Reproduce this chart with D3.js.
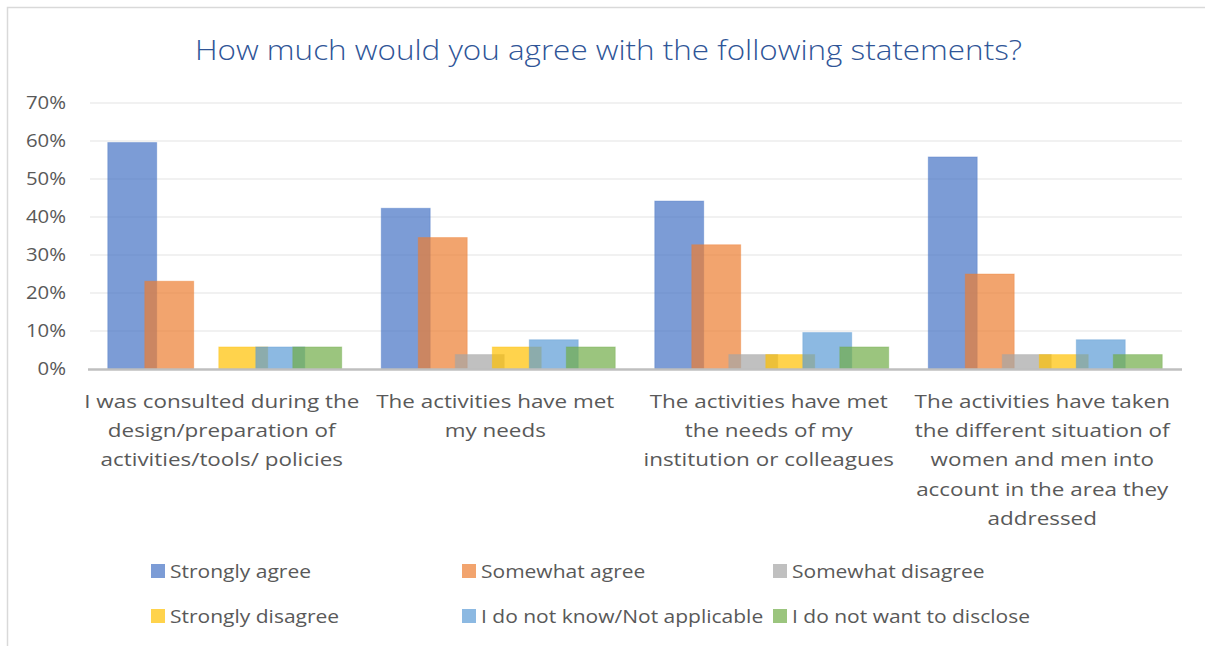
<!DOCTYPE html>
<html>
<head>
<meta charset="utf-8">
<script src="https://cdn.jsdelivr.net/npm/d3@7"></script>
<style>
  html, body { margin: 0; padding: 0; background: #ffffff; }
  svg { display: block; }
  text { font-family: "Open Sans", "Liberation Sans", sans-serif; }
</style>
</head>
<body>
<svg id="chart" width="1205" height="646"></svg>
<script>
// Survey statements (x categories), each split into text lines
const categories = [
  "I was consulted during the design/preparation of activities/tools/ policies",
  "The activities have met my needs",
  "The activities have met the needs of my institution or colleagues",
  "The activities have taken the different situation of women and men into account in the area they addressed"
];
const categoryLines = [
  ["I was consulted during the", "design/preparation of", "activities/tools/ policies"],
  ["The activities have met", "my needs"],
  ["The activities have met", "the needs of my", "institution or colleagues"],
  ["The activities have taken", "the different situation of", "women and men into", "account in the area they", "addressed"]
];

// Answer options (series)
const seriesNames = [
  "Strongly agree", "Somewhat agree", "Somewhat disagree",
  "Strongly disagree", "I do not know/Not applicable", "I do not want to disclose"
];
const seriesColors = ["#4472C4", "#ED7D31", "#A5A5A5", "#FFC000", "#5B9BD5", "#70AD47"];

// Share of respondents per statement, one array per answer option
const stronglyAgree     = [0.596, 0.423, 0.442, 0.558];
const somewhatAgree     = [0.231, 0.346, 0.327, 0.250];
const somewhatDisagree  = [0.000, 0.038, 0.038, 0.038];
const stronglyDisagree  = [0.058, 0.058, 0.038, 0.038];
const doNotKnow         = [0.058, 0.077, 0.096, 0.077];
const doNotDisclose     = [0.058, 0.058, 0.058, 0.038];
const seriesValues = [stronglyAgree, somewhatAgree, somewhatDisagree, stronglyDisagree, doNotKnow, doNotDisclose];

const yTicks = [0, 0.1, 0.2, 0.3, 0.4, 0.5, 0.6, 0.7];

const svg = d3.select("#chart");
const textColor = "#595959";

// Widen text horizontally by a factor, keeping glyph height
function stretch(selection, factor) {
  selection.each(function () {
    const w = this.getComputedTextLength();
    d3.select(this).attr("textLength", w * factor).attr("lengthAdjust", "spacingAndGlyphs");
  });
}

// Chart frame
svg.append("rect")
  .attr("x", 7.5).attr("y", 7.5)
  .attr("width", 1210).attr("height", 660)
  .attr("fill", "#ffffff")
  .attr("stroke", "#D9D9D9").attr("stroke-width", 1.5);

// Title
svg.append("text")
  .attr("x", 608.5).attr("y", 60)
  .attr("text-anchor", "middle")
  .attr("fill", "#2F5597")
  .attr("font-size", 28)
  .attr("font-weight", 300)
  .attr("textLength", 827)
  .attr("lengthAdjust", "spacingAndGlyphs")
  .text("How much would you agree with the following statements?");

// Scales
const plot = { left: 88, right: 1182, top: 103, bottom: 369 };
const x = d3.scaleBand().domain(categories).range([plot.left, plot.right]).padding(0);
const y = d3.scaleLinear().domain([0, 0.7]).range([plot.bottom, plot.top]);

// Overlapping clustered bars: each bar is wider than the step between bars
const band = x.bandwidth();
const barWidth = band * 0.179;
const barStep = band * 0.1353;
const clusterWidth = barStep * (seriesNames.length - 1) + barWidth;
const inner = d3.scalePoint()
  .domain(seriesNames)
  .range([(band - clusterWidth) / 2, (band - clusterWidth) / 2 + barStep * (seriesNames.length - 1)]);

// Gridlines
svg.append("g")
  .selectAll("line")
  .data(yTicks.filter(d => d > 0))
  .join("line")
  .attr("x1", plot.left + 2).attr("x2", plot.right)
  .attr("y1", d => y(d)).attr("y2", d => y(d))
  .attr("stroke", "#EDEDED").attr("stroke-width", 1.5);

// Y axis labels
const yAxis = d3.axisLeft(y).tickValues(yTicks).tickFormat(d3.format(".0%")).tickSize(0).tickPadding(0);
const yG = svg.append("g").attr("transform", `translate(66,0)`).call(yAxis);
yG.select(".domain").remove();
yG.selectAll("text")
  .attr("fill", textColor)
  .attr("font-size", 18)
  .attr("font-family", "'Open Sans', sans-serif")
  .call(stretch, 1.13);

// Bars, series drawn in order so later ones overlap earlier ones
const barsG = svg.append("g");
seriesNames.forEach((name, si) => {
  barsG.append("g")
    .selectAll("rect")
    .data(categories.map((c, ci) => ({ c, v: seriesValues[si][ci] })).filter(d => d.v > 0))
    .join("rect")
    .attr("x", d => x(d.c) + inner(name))
    .attr("y", d => y(d.v))
    .attr("width", barWidth)
    .attr("height", d => y(0) - y(d.v))
    .attr("fill", seriesColors[si])
    .attr("fill-opacity", 0.7)
    .attr("stroke", seriesColors[si])
    .attr("stroke-opacity", 0.35)
    .attr("stroke-width", 1);
});

// Baseline
svg.append("line")
  .attr("x1", plot.left).attr("x2", plot.right)
  .attr("y1", y(0) + 0.5).attr("y2", y(0) + 0.5)
  .attr("stroke", "#BFBFBF").attr("stroke-width", 2.5);

// Category labels, one text element per line
const catG = svg.append("g");
categories.forEach((c, ci) => {
  categoryLines[ci].forEach((line, li) => {
    catG.append("text")
      .attr("class", "cat-line")
      .attr("x", x(c) + band / 2 - 3)
      .attr("y", 408 + li * 29.2)
      .attr("text-anchor", "middle")
      .attr("fill", textColor)
      .attr("font-size", 19)
      .text(line);
  });
});
catG.selectAll("text.cat-line").call(stretch, 1.18);

// Legend
const legendCols = [151, 462, 773];
const legendRows = [571, 616];
const legend = svg.append("g");
seriesNames.forEach((name, i) => {
  const lx = legendCols[i % 3];
  const ly = legendRows[Math.floor(i / 3)];
  legend.append("rect")
    .attr("x", lx).attr("y", ly - 7)
    .attr("width", 14).attr("height", 14)
    .attr("fill", seriesColors[i]).attr("fill-opacity", 0.7);
  legend.append("text")
    .attr("class", "legend-label")
    .attr("x", lx + 19).attr("y", ly + 7)
    .attr("fill", textColor)
    .attr("font-size", 19)
    .text(name);
});
legend.selectAll("text.legend-label").call(stretch, 1.105);
</script>
</body>
</html>
